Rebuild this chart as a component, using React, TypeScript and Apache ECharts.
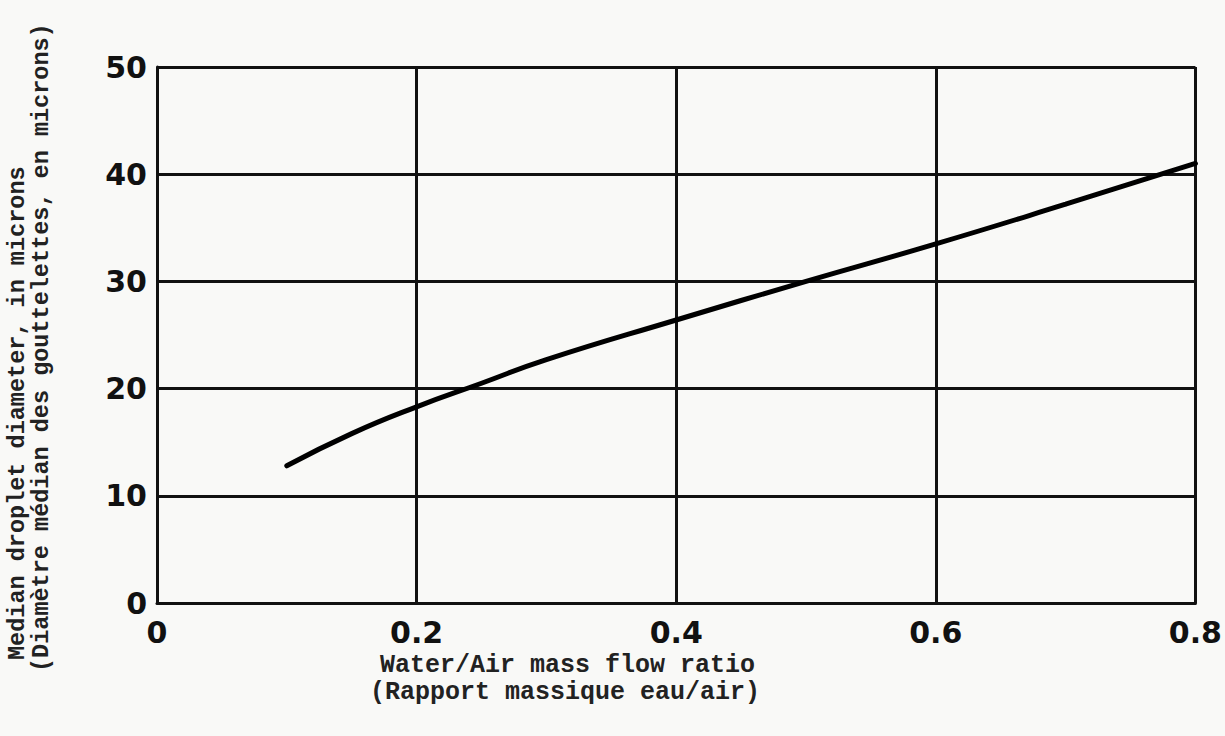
import React, { useEffect, useRef } from "react";
import * as echarts from "echarts";

const xValues = [0.1, 0.15, 0.2, 0.25, 0.3, 0.4, 0.5, 0.6, 0.7, 0.8];
const yValues = [12.8, 15.8, 18.3, 20.5, 22.7, 26.4, 30.0, 33.5, 37.2, 41.0];
const xTitle = ["Water/Air mass flow ratio", "(Rapport massique eau/air)"];
const yTitle = ["Median droplet diameter, in microns", "(Diamètre médian des gouttelettes, en microns)"];

export default function App() {
  const ref = useRef<HTMLDivElement>(null);
  useEffect(() => {
    if (!ref.current) return;
    const chart = echarts.init(ref.current, null, { renderer: "svg" });
    const tickFont = { fontFamily: "DejaVu Sans", fontWeight: "bold", fontSize: 30, color: "#111" };
    const titleStyle = { fontFamily: "Liberation Mono", fontWeight: "bold", fill: "#222" };
    chart.setOption({
      animation: false,
      backgroundColor: "#f9f9f7",
      grid: { left: 157, right: 23, top: 67, bottom: 133 },
      xAxis: {
        type: "value",
        min: 0,
        max: 0.8,
        interval: 0.2,
        axisLine: { show: true, lineStyle: { color: "#111", width: 3 } },
        axisTick: { show: false },
        splitLine: { show: true, lineStyle: { color: "#111", width: 3 } },
        axisLabel: { ...tickFont, margin: 14, formatter: (v: number) => (v === 0 ? "0" : v.toFixed(1)) },
      },
      yAxis: {
        type: "value",
        min: 0,
        max: 50,
        interval: 10,
        axisLine: { show: true, lineStyle: { color: "#111", width: 3 } },
        axisTick: { show: false },
        splitLine: { show: true, lineStyle: { color: "#111", width: 3 } },
        axisLabel: { ...tickFont, margin: 10 },
      },
      graphic: [
        { type: "text", x: 380, y: 665, style: { text: xTitle[0], ...titleStyle, fontSize: 25, lineHeight: 24, textAlign: "left", textVerticalAlign: "middle" } },
        { type: "text", x: 370, y: 692, style: { text: xTitle[1], ...titleStyle, fontSize: 25, lineHeight: 24, textAlign: "left", textVerticalAlign: "middle" } },
        { type: "text", x: 6, y: 660, rotation: Math.PI / 2, style: { text: yTitle[0], ...titleStyle, fontSize: 23.5, lineHeight: 23, textAlign: "left", textVerticalAlign: "top" } },
        { type: "text", x: 30, y: 672, rotation: Math.PI / 2, style: { text: yTitle[1], ...titleStyle, fontSize: 23.5, lineHeight: 23, textAlign: "left", textVerticalAlign: "top" } },
      ],
      series: [
        {
          type: "line",
          data: xValues.map((x, i) => [x, yValues[i]]),
          smooth: true,
          showSymbol: false,
          lineStyle: { color: "#000", width: 5, cap: "round" },
        },
      ],
    });
    return () => chart.dispose();
  }, []);
  return <div ref={ref} style={{ width: 1225, height: 736, position: "absolute", left: 0, top: 0 }} />;
}
